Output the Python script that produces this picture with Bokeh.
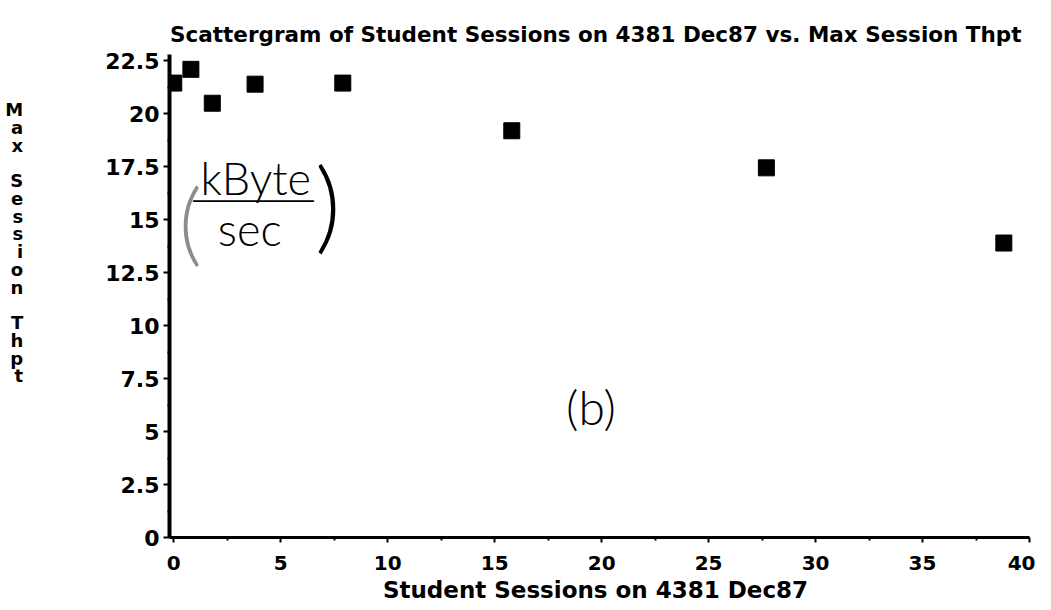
from bokeh.plotting import figure
from bokeh.models import Range1d, Label, FixedTicker, Title
from bokeh.embed import file_html
from bokeh.resources import INLINE

# data
sessions = [0, 0.8, 1.8, 3.8, 7.9, 15.8, 27.7, 38.8]
max_thpt = [21.45, 22.1, 20.5, 21.4, 21.45, 19.2, 17.45, 13.9]
x_ticks = [0, 5, 10, 15, 20, 25, 30, 35, 40]
y_ticks = [0, 2.5, 5, 7.5, 10, 12.5, 15, 17.5, 20, 22.5]

title_text = "Scattergram of Student Sessions on 4381  Dec87 vs. Max Session Thpt"
x_title = "Student Sessions on 4381  Dec87"
y_title = "Max Session Thpt"

FONT = "DejaVu Sans"
HAND = "Lato Light, Lato, Open Sans"

p = figure(width=1035, height=610, output_backend="svg", toolbar_location=None,
           x_range=Range1d(-0.2, 40), y_range=Range1d(0, 22.8),
           min_border_left=169, min_border_right=6, min_border_top=54,
           min_border_bottom=73, title=None)
p.outline_line_color = None
p.grid.visible = False
p.background_fill_color = "white"
p.border_fill_color = "white"

t = Title(text=title_text, align="center", text_font=FONT, text_font_size="21.5px",
          text_font_style="bold", text_color="black", standoff=15)
p.add_layout(t, "above")

p.scatter(sessions, max_thpt, marker="square", size=16, color="black")

for ax in (p.xaxis, p.yaxis):
    ax.axis_line_color = "black"
    ax.axis_line_width = 3
    ax.major_tick_line_color = "black"
    ax.major_tick_line_width = 2
    ax.minor_tick_line_color = "black"
    ax.minor_tick_line_width = 2
    ax.major_label_text_font = FONT
    ax.major_label_text_font_style = "bold"
    ax.major_label_text_color = "black"
    ax.major_tick_in = 0
    ax.minor_tick_in = 0

p.yaxis.axis_line_width = 4
p.xaxis.ticker = FixedTicker(ticks=x_ticks, minor_ticks=[v + 2.5 for v in x_ticks[:-1]])
p.yaxis.ticker = FixedTicker(ticks=y_ticks,
                             minor_ticks=[v + 1.25 for v in y_ticks[:-1]])
p.xaxis.major_tick_out = 5
p.xaxis.minor_tick_out = 3
p.yaxis.major_tick_out = 6
p.yaxis.minor_tick_out = 2
p.xaxis.major_label_text_font_size = "20px"
p.yaxis.major_label_text_font_size = "22px"
p.xaxis.major_label_standoff = 13
p.yaxis.major_label_standoff = 4
p.xaxis.axis_label = x_title
p.xaxis.axis_label_text_font = FONT
p.xaxis.axis_label_text_font_size = "23px"
p.xaxis.axis_label_text_font_style = "bold"
p.xaxis.axis_label_text_color = "black"
p.xaxis.axis_label_standoff = 4

# stacked vertical y title (one letter per line, blank line between words)
letters = "\n\n".join("\n".join(list(w)) for w in y_title.split(" "))
p.yaxis.axis_label = letters + "\n \n \n \n \n \n "
p.yaxis.axis_label_orientation = "horizontal"
p.yaxis.axis_label_text_font = FONT
p.yaxis.axis_label_text_font_size = "18px"
p.yaxis.axis_label_text_font_style = "bold"
p.yaxis.axis_label_text_color = "black"
p.yaxis.axis_label_text_line_height = 0.845
p.yaxis.axis_label_standoff = 79

# handwritten annotations
hand = dict(text_font=HAND, text_color="black", text_font_style="normal")
p.add_layout(Label(x=3.83, y=16.95, text="kByte", text_font_size="45px",
                   text_align="center", text_baseline="middle", **hand))
p.add_layout(Label(x=3.55, y=14.58, text="sec", text_font_size="45px",
                   text_align="center", text_baseline="middle", **hand))
p.add_layout(Label(x=3.73, y=15.9, text="\u2500" * 10, text_font_size="20px",
                   text_align="center", text_baseline="middle",
                   text_font=FONT, text_color="black"))
p.add_layout(Label(x=0.78, y=15.0, text="(", text_font_size="90px", text_alpha=0.45,
                   text_align="center", text_baseline="middle", **hand))
p.add_layout(Label(x=7.2, y=15.85, text=")", text_font_size="100px",
                   text_align="center", text_baseline="middle", **hand))
p.add_layout(Label(x=19.5, y=6.18, text="(b)", text_font_size="48px",
                   text_align="center", text_baseline="middle", **hand))

open("out.html", "w").write(file_html(p, INLINE))
